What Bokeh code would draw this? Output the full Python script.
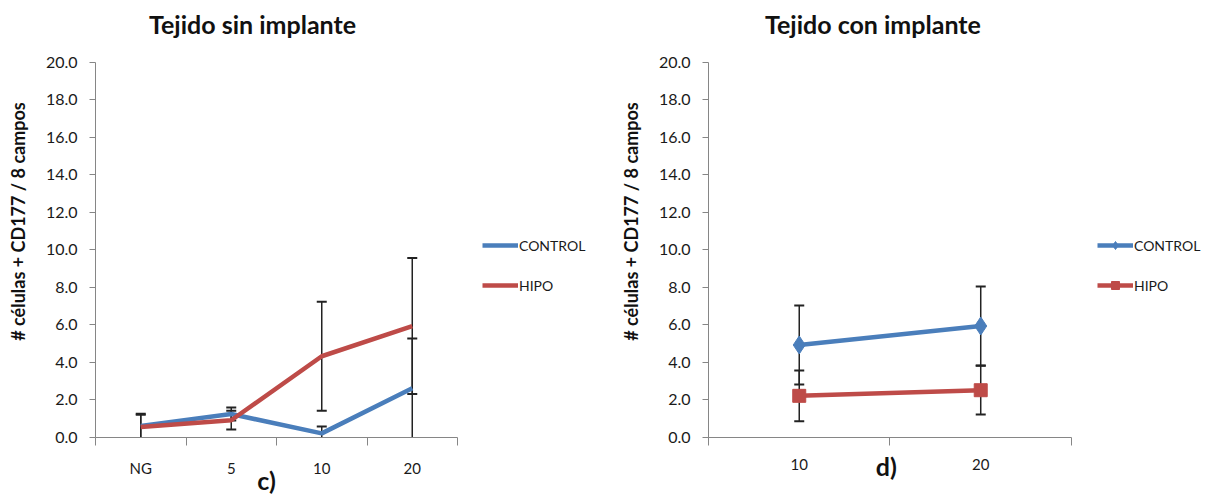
import numpy as np
from bokeh.plotting import figure
from bokeh.models import (Range1d, FixedTicker, Legend, LegendItem, PrintfTickFormatter,
                          LinearAxis, Label)
from bokeh.layouts import row
from bokeh.embed import file_html
from bokeh.resources import INLINE

# ---- data ----
left_categories = ["NG", "5", "10", "20"]
left_control = [0.62, 1.25, 0.22, 2.62]
left_hipo = [0.56, 0.92, 4.33, 5.94]
left_control_err = [0.65, 0.35, 0.37, 2.65]
left_hipo_err = [0.65, 0.50, 2.90, 3.62]

right_categories = ["10", "20"]
right_control = [4.93, 5.94]
right_hipo = [2.22, 2.52]
right_control_err = [2.10, 2.10]
right_hipo_err = [1.35, 1.30]

y_ticks = [0, 2, 4, 6, 8, 10, 12, 14, 16, 18, 20]

series_names = ["CONTROL", "HIPO"]
titles = ["Tejido sin implante", "Tejido con implante"]
panel_tags = ["c)", "d)"]
y_label = "# células + CD177 / 8 campos"

BLUE = "#4A7EBB"
RED = "#BE4B48"
AXIS = "#868686"
TXT = "#1a1a1a"
FONT = "Lato"

FIG_W = 606
TOP = 5
FRAME_H = 432
Y_TOP = 23.02          # y value at the top of the frame (axis itself stops at 20)


def make_fig(cats, control, hipo, cerr, herr, left_border, x_end, markers,
             title_x, tag_x, tag_standoff, legend_loc, title_text, tag_text):
    n = len(cats)
    xs = list(range(1, n + 1))
    p = figure(frame_width=FIG_W - left_border - 6, frame_height=FRAME_H,
               x_range=Range1d(0.5, x_end), y_range=Range1d(0, Y_TOP),
               output_backend="svg", toolbar_location=None,
               min_border_left=left_border, min_border_right=6,
               min_border_top=TOP, min_border_bottom=61)
    p.outline_line_color = None
    p.grid.visible = False

    # x axis
    xa = p.xaxis[0]
    xa.bounds = (0.5, n + 0.5)
    xa.ticker = FixedTicker(ticks=xs, minor_ticks=[0.5 + i for i in range(n + 1)])
    xa.major_label_overrides = {x: c for x, c in zip(xs, cats)}
    xa.major_tick_line_color = None
    xa.major_tick_in = 0
    xa.major_tick_out = 0
    xa.minor_tick_in = 0
    xa.minor_tick_out = 8
    xa.minor_tick_line_color = AXIS
    xa.axis_line_color = AXIS
    xa.major_label_standoff = 13
    xa.major_label_text_font = FONT
    xa.major_label_text_font_size = "15px"
    xa.major_label_text_color = TXT

    # panel tag as a bare axis below
    tag_axis = LinearAxis(ticker=FixedTicker(ticks=[tag_x]),
                          major_label_overrides={tag_x: tag_text},
                          axis_line_color=None, major_tick_line_color=None,
                          minor_tick_line_color=None, major_tick_in=0, major_tick_out=0,
                          major_label_standoff=tag_standoff,
                          major_label_text_font=FONT, major_label_text_font_style="bold",
                          major_label_text_font_size="25px", major_label_text_color="#111111")
    p.add_layout(tag_axis, "below")

    # y axis
    ya = p.yaxis[0]
    ya.bounds = (0, 20)
    ya.ticker = FixedTicker(ticks=y_ticks)
    ya.formatter = PrintfTickFormatter(format="%.1f")
    ya.major_tick_in = 0
    ya.major_tick_out = 6
    ya.minor_tick_line_color = None
    ya.major_tick_line_color = AXIS
    ya.axis_line_color = AXIS
    ya.major_label_standoff = 12
    ya.major_label_text_font = FONT
    ya.major_label_text_font_size = "16px"
    ya.major_label_text_color = TXT
    ya.axis_label = y_label
    ya.axis_label_standoff = 14
    ya.axis_label_text_font = FONT
    ya.axis_label_text_font_style = "bold"
    ya.axis_label_text_font_size = "18px"
    ya.axis_label_text_color = "#111111"

    # title (inside the frame, above the y axis top)
    p.add_layout(Label(x=title_x, y=22.06, text=title_text, text_align="center",
                       text_baseline="middle", text_font=FONT, text_font_style="bold",
                       text_font_size="25px", text_color="#111111"))

    # error bars
    for vals, errs in ((control, cerr), (hipo, herr)):
        lo = [v - e for v, e in zip(vals, errs)]
        hi = [v + e for v, e in zip(vals, errs)]
        p.segment(x0=xs, y0=lo, x1=xs, y1=hi, line_color="#222222", line_width=1.5)
        p.scatter(x=xs + xs, y=lo + hi, marker="dash", size=10, line_color="#222222",
                  line_width=2)

    # series
    items = []
    for name, vals, color, mk in zip(series_names, (control, hipo), (BLUE, RED), markers):
        rs = [p.line(xs, vals, line_color=color, line_width=4.5)]
        if mk == "diamond":
            rs.append(p.scatter(xs, vals, marker="diamond", size=18, fill_color=color,
                                line_color=color))
        elif mk == "square":
            rs.append(p.scatter(xs, vals, marker="square", size=13, fill_color=color,
                                line_color=color))
        items.append(LegendItem(label=name, renderers=rs))

    leg = Legend(items=items, location=legend_loc, orientation="vertical",
                 glyph_width=36, glyph_height=20, label_height=20, spacing=20,
                 label_standoff=1, padding=0, margin=0,
                 border_line_color=None, background_fill_alpha=0,
                 label_text_font=FONT, label_text_font_size="14px", label_text_color=TXT)
    p.add_layout(leg)
    return p


# left: 0.5 -> 95 px, 4.5 -> 457 px ; right: 0.5 -> 708 px, 2.5 -> 1071 px
p1 = make_fig(left_categories, left_control, left_hipo, left_control_err, left_hipo_err,
              95, 6.08, (None, None), 2.235, 2.39, -15, (387, 142), titles[0], panel_tags[0])
p2 = make_fig(right_categories, right_control, right_hipo, right_control_err, right_hipo_err,
              102, 3.244, ("diamond", "square"), 1.406, 1.48, -22, (389, 142), titles[1],
              panel_tags[1])

layout = row(p1, p2)
open("out.html", "w").write(file_html(layout, INLINE))
